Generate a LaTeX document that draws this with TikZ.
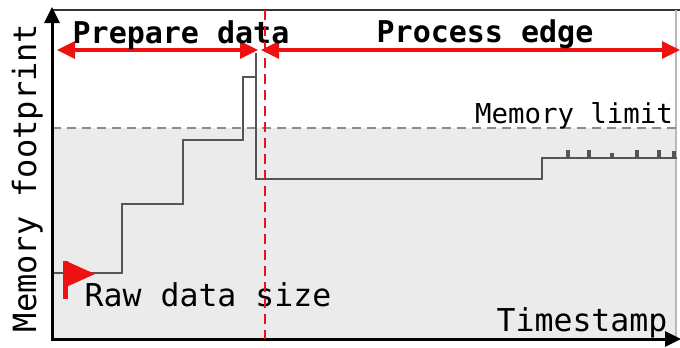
\documentclass[tikz,border=0pt]{standalone}
\usepackage{fontspec}
\setmonofont{DejaVu Sans Mono}
\usetikzlibrary{arrows.meta}
\definecolor{plotgray}{HTML}{EBEBEB}
\definecolor{stepline}{HTML}{555555}
\definecolor{markred}{HTML}{EE1111}
\definecolor{limitgray}{HTML}{8C8C8C}
\begin{document}
\begin{tikzpicture}[x=1pt,y=-1pt,
  lbl/.style={font=\ttfamily, inner sep=0, anchor=base},
  axisline/.style={black, line width=3, -{Triangle[length=16pt,width=15pt]}},
  phase/.style={markred, line width=3.4, {Triangle[length=18pt,width=17pt]}-{Triangle[length=18pt,width=17pt]}},
  curve/.style={stepline, line width=2.4, line join=miter}]
\useasboundingbox (0,0) rectangle (680,348);
\fill[white] (0,0) rectangle (680,348);

% region below the memory limit
\fill[plotgray] (52,128) rectangle (677,339);

% frame
\draw[black!80, line width=2.8] (52,10) -- (680,10);
\draw[gray!55, line width=1.2] (676,10) -- (676,339);

% memory limit
\draw[limitgray, line width=2.4, dash pattern=on 9pt off 6pt] (52,128) -- (676,128);

% memory footprint over time
\draw[curve] (52,273) -- (122,273) -- (122,204) -- (183,204) -- (183,140)
  -- (243,140) -- (243,77) -- (256,77) -- (256,53) -- (256,179) -- (542,179)
  -- (542,158)
  -- (567,158) -- (567,151) -- (569,151) -- (569,158)
  -- (588,158) -- (588,151) -- (590,151) -- (590,158)
  -- (611,158) -- (611,154) -- (613,154) -- (613,158)
  -- (636,158) -- (636,151) -- (638,151) -- (638,158)
  -- (658,158) -- (658,151) -- (660,151) -- (660,158)
  -- (673,158) -- (673,152) -- (675,152) -- (675,158) -- (677,158);

% raw data size marker
\draw[markred, line width=5] (65,261) -- (65,299);
\fill[markred] (66,261) -- (95,274) -- (66,287) -- cycle;

% axes
\coordinate (origin) at (52,341);
\coordinate (ytip) at (52,7);
\coordinate (xstart) at (51,339);
\coordinate (xtip) at (681,339);
\draw[axisline] (origin) -- (ytip);
\draw[axisline] (xstart) -- (xtip);

% phase arrows
\coordinate (prepL) at (57,50);
\coordinate (prepR) at (258,50);
\coordinate (procL) at (261,50);
\coordinate (procR) at (680,50);
\draw[phase] (prepL) -- (prepR);
\draw[phase] (procL) -- (procR);

% labels
\node[lbl, font=\ttfamily\bfseries\fontsize{30}{36}\selectfont] (prep) at (181,43) {Prepare data};
\node[lbl, font=\ttfamily\bfseries\fontsize{30}{36}\selectfont] (proc) at (485,42) {Process edge};
\node[lbl, font=\ttfamily\fontsize{27.4}{33}\selectfont] (limit) at (574,123) {Memory limit};
\node[lbl, font=\ttfamily\fontsize{31.5}{38}\selectfont] (raw) at (208,306) {Raw data size};
\node[lbl, font=\ttfamily\fontsize{31.5}{38}\selectfont] (time) at (582,331) {Timestamp};
\node[lbl, font=\ttfamily\fontsize{32}{38}\selectfont, rotate=90] (foot) at (36,178) {Memory footprint};

% phase boundary
\coordinate (splitT) at (265,10);
\coordinate (splitB) at (265,339);
\draw[markred, line width=2.8, dash pattern=on 10pt off 6pt] (splitT) -- (splitB);
\end{tikzpicture}
\end{document}
